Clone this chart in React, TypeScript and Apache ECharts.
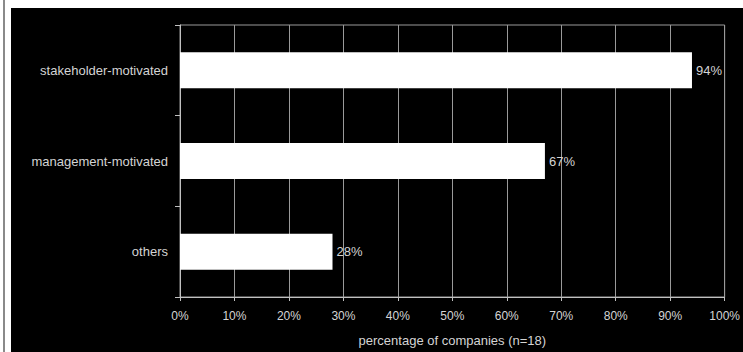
import React, { useEffect, useRef } from "react";
import * as echarts from "echarts";

// Motivation categories, top to bottom
const categories = ["stakeholder-motivated", "management-motivated", "others"];
// Share of companies (%), n = 18
const shares = [94, 67, 28];
// Percentage axis ticks
const xTicks = [0, 10, 20, 30, 40, 50, 60, 70, 80, 90, 100];

const TEXT = "#d4d4d4";
const GRID = "#9a9a9a";
const AXIS = "#c0c0c0";
const FONT = "'Liberation Sans', Arial, sans-serif";

export default function App() {
  const ref = useRef<HTMLDivElement>(null);

  useEffect(() => {
    if (!ref.current) return;
    const chart = echarts.init(ref.current, undefined, { renderer: "svg" });
    chart.setOption({
      animation: false,
      backgroundColor: "transparent",
      textStyle: { fontFamily: FONT },
      grid: {
        left: 180,
        right: 16,
        top: 25,
        bottom: 51,
        show: true,
        borderColor: GRID,
        borderWidth: 1,
      },
      xAxis: {
        type: "value",
        min: xTicks[0],
        max: xTicks[xTicks.length - 1],
        interval: 10,
        axisLine: { show: true, lineStyle: { color: AXIS, width: 1 } },
        axisTick: { show: true, length: 4, lineStyle: { color: AXIS } },
        splitLine: { show: true, lineStyle: { color: GRID, width: 1 } },
        axisLabel: {
          color: TEXT,
          fontSize: 12,
          fontFamily: FONT,
          margin: 13,
          formatter: (v: number) => `${v}%`,
        },
        name: "percentage of companies (n=18)",
        nameLocation: "middle",
        nameGap: 37,
        nameTextStyle: { color: TEXT, fontSize: 13, fontFamily: FONT },
      },
      yAxis: {
        type: "category",
        data: categories,
        inverse: true,
        axisLine: { show: true, lineStyle: { color: AXIS, width: 1 } },
        axisTick: { show: true, length: 5, lineStyle: { color: AXIS } },
        axisLabel: { color: TEXT, fontSize: 13, fontFamily: FONT, margin: 12 },
        splitLine: { show: false },
      },
      series: [
        {
          type: "bar",
          data: shares,
          barWidth: 36,
          itemStyle: { color: "#ffffff" },
          label: {
            show: true,
            position: "right",
            distance: 4,
            color: TEXT,
            fontSize: 13,
            fontFamily: FONT,
            formatter: (p: any) => `${p.value}%`,
          },
        },
      ],
    });
    return () => chart.dispose();
  }, []);

  return (
    <div
      style={{
        position: "fixed",
        left: 0,
        top: 0,
        width: 743,
        height: 352,
        background: "#ffffff",
        overflow: "hidden",
      }}
    >
      <div
        style={{
          position: "absolute",
          left: 3,
          top: 0,
          width: 2,
          height: 352,
          background: "#8a8a8a",
        }}
      />
      <div
        style={{
          position: "absolute",
          left: 11,
          top: 8,
          right: 0,
          bottom: 0,
          background: "#000000",
        }}
      />
      <div
        ref={ref}
        style={{ position: "absolute", left: 0, top: 0, width: 743, height: 352 }}
      />
    </div>
  );
}
